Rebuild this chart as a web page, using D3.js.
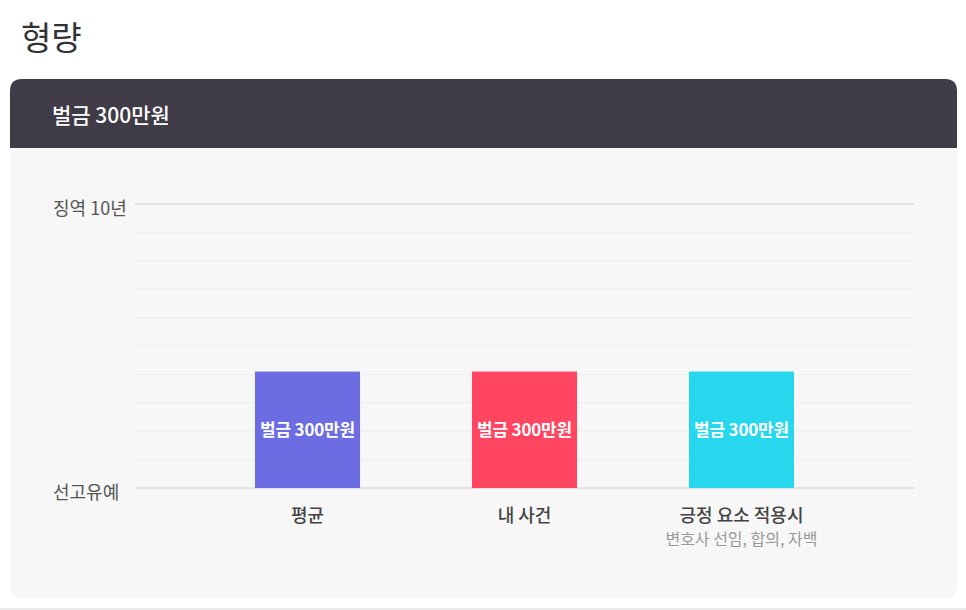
<!DOCTYPE html>
<html>
<head>
<meta charset="utf-8">
<script src="https://cdn.jsdelivr.net/npm/d3@7"></script>
<style>
  html, body { margin: 0; padding: 0; background: #fff; }
  body { width: 966px; height: 610px; overflow: hidden; font-family: "Noto Sans CJK KR", "Noto Sans", sans-serif; }
</style>
</head>
<body>
<div id="chart"></div>
<script>
var width = 966;
var height = 610;

// data
var categories = ["평균", "내 사건", "긍정 요소 적용시"];
var subLabels = ["", "", "변호사 선임, 합의, 자백"];
var values = [4.1, 4.1, 4.1];
var barLabels = ["벌금 300만원", "벌금 300만원", "벌금 300만원"];
var colors = ["#6c6ce3", "#ff4560", "#27d7ee"];
var yTickValues = [0, 10];
var yTickLabels = ["선고유예", "징역 10년"];
var pageTitle = "형량";
var cardTitle = "벌금 300만원";

var svg = d3.select("#chart")
  .append("svg")
  .attr("width", width)
  .attr("height", height);

// page title
svg.append("text")
  .attr("x", 21)
  .attr("y", 50)
  .style("font-size", "33px")
  .style("font-weight", "400")
  .attr("fill", "#333")
  .text(pageTitle);

// card
var cardX = 10, cardY = 79, cardW = 947, cardH = 520, r = 12;
svg.append("rect")
  .attr("x", cardX)
  .attr("y", cardY)
  .attr("width", cardW)
  .attr("height", cardH)
  .attr("rx", r)
  .attr("fill", "#f7f7f7");

// header with rounded top only
svg.append("path")
  .attr("d", "M" + cardX + "," + (cardY + 69) +
    " V" + (cardY + r) +
    " Q" + cardX + "," + cardY + " " + (cardX + r) + "," + cardY +
    " H" + (cardX + cardW - r) +
    " Q" + (cardX + cardW) + "," + cardY + " " + (cardX + cardW) + "," + (cardY + r) +
    " V" + (cardY + 69) + " Z")
  .attr("fill", "#3f3b47");

svg.append("text")
  .attr("x", 52)
  .attr("y", 123)
  .style("font-size", "21px")
  .style("font-weight", "500")
  .attr("fill", "#fff")
  .text(cardTitle);

// bottom page border
svg.append("rect")
  .attr("x", 0)
  .attr("y", 608)
  .attr("width", width)
  .attr("height", 2)
  .attr("fill", "#ebebeb");

// scales
var x = d3.scaleBand()
  .domain(categories)
  .range([135, 914])
  .paddingInner(0.516)
  .paddingOuter(0.553);

var y = d3.scaleLinear()
  .domain([0, 10])
  .range([488, 204]);

// gridlines
svg.append("g")
  .selectAll("line")
  .data(y.ticks(10))
  .enter()
  .append("line")
  .attr("x1", 135)
  .attr("x2", 914)
  .attr("y1", d => y(d))
  .attr("y2", d => y(d))
  .attr("stroke", d => (d === 0 || d === 10) ? "#e2e2e2" : "#ededed")
  .attr("stroke-width", d => (d === 0 || d === 10) ? 2 : 1);

// y axis labels (left aligned at card padding)
var yAxis = d3.axisLeft(y)
  .tickValues(yTickValues)
  .tickSize(0)
  .tickFormat((d, i) => yTickLabels[i]);

var yg = svg.append("g")
  .attr("transform", "translate(135,0)")
  .call(yAxis);
yg.select(".domain").remove();
yg.selectAll("text")
  .attr("x", 53 - 135)
  .attr("dy", "0.6em")
  .attr("text-anchor", "start")
  .style("font-family", "'Noto Sans CJK KR', sans-serif")
  .style("font-size", "18px")
  .attr("fill", "#555");

// bars
var bars = svg.append("g")
  .selectAll("g")
  .data(categories)
  .enter()
  .append("g");

bars.append("rect")
  .attr("x", d => x(d))
  .attr("y", (d, i) => y(values[i]))
  .attr("width", x.bandwidth())
  .attr("height", (d, i) => y(0) - y(values[i]))
  .attr("fill", (d, i) => colors[i]);

bars.append("text")
  .attr("x", d => x(d) + x.bandwidth() / 2)
  .attr("y", (d, i) => (y(values[i]) + y(0)) / 2)
  .attr("dy", "0.36em")
  .attr("text-anchor", "middle")
  .style("font-size", "17px")
  .style("font-weight", "700")
  .style("letter-spacing", "-0.2px")
  .attr("fill", "#fff")
  .text((d, i) => barLabels[i]);

// category labels
bars.append("text")
  .attr("x", d => x(d) + x.bandwidth() / 2)
  .attr("y", 522)
  .attr("text-anchor", "middle")
  .style("font-size", "18px")
  .style("font-weight", "500")
  .attr("fill", "#444")
  .text(d => d);

bars.append("text")
  .attr("x", d => x(d) + x.bandwidth() / 2)
  .attr("y", 545)
  .attr("text-anchor", "middle")
  .style("font-size", "16px")
  .attr("fill", "#999")
  .text((d, i) => subLabels[i]);
</script>
</body>
</html>
